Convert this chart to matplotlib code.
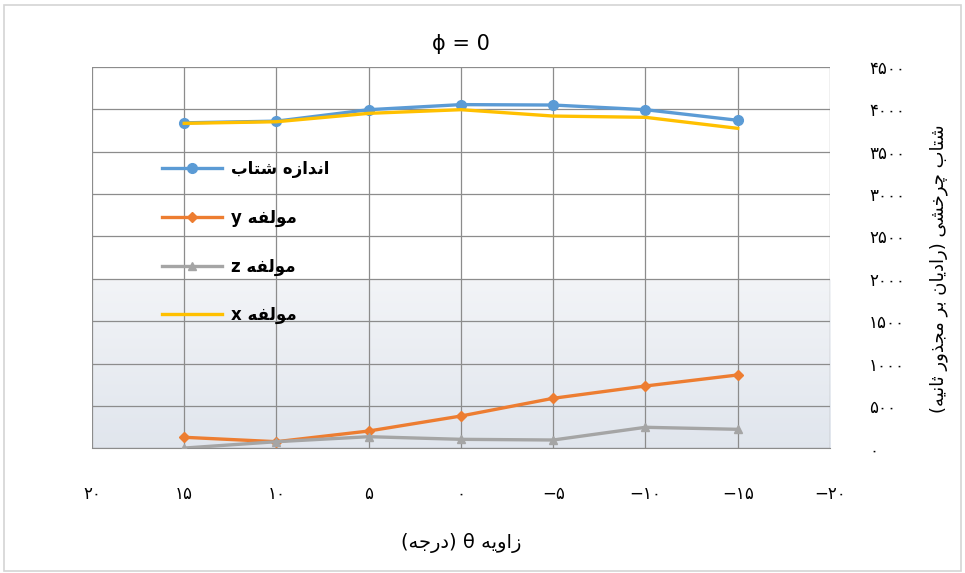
import numpy as np
import matplotlib
matplotlib.use('Agg')
import matplotlib.pyplot as plt
from matplotlib.patches import Rectangle
from matplotlib.ticker import FuncFormatter

# data
theta = [15, 10, 5, 0, -5, -10, -15]
magnitude = [3840, 3860, 3995, 4055, 4050, 3995, 3870]
comp_y = [132, 80, 206, 383, 592, 737, 867]
comp_z = [5, 80, 139, 108, 100, 250, 226]
comp_x = [3834, 3853, 3952, 3995, 3920, 3905, 3775]

x_ticks = [20, 15, 10, 5, 0, -5, -10, -15, -20]
y_ticks = list(range(0, 4501, 500))

# --- minimal persian shaping (matplotlib has no bidi / shaping) ---
# (isolated, final, initial, medial)
FORMS = {
    'ا': (0xFE8D, 0xFE8E, None, None),
    'ب': (0xFE8F, 0xFE90, 0xFE91, 0xFE92),
    'ت': (0xFE95, 0xFE96, 0xFE97, 0xFE98),
    'ث': (0xFE99, 0xFE9A, 0xFE9B, 0xFE9C),
    'ج': (0xFE9D, 0xFE9E, 0xFE9F, 0xFEA0),
    'چ': (0xFB7A, 0xFB7B, 0xFB7C, 0xFB7D),
    'خ': (0xFEA5, 0xFEA6, 0xFEA7, 0xFEA8),
    'د': (0xFEA9, 0xFEAA, None, None),
    'ذ': (0xFEAB, 0xFEAC, None, None),
    'ر': (0xFEAD, 0xFEAE, None, None),
    'ز': (0xFEAF, 0xFEB0, None, None),
    'ش': (0xFEB5, 0xFEB6, 0xFEB7, 0xFEB8),
    'ف': (0xFED1, 0xFED2, 0xFED3, 0xFED4),
    'ل': (0xFEDD, 0xFEDE, 0xFEDF, 0xFEE0),
    'م': (0xFEE1, 0xFEE2, 0xFEE3, 0xFEE4),
    'ن': (0xFEE5, 0xFEE6, 0xFEE7, 0xFEE8),
    'ه': (0xFEE9, 0xFEEA, 0xFEEB, 0xFEEC),
    'و': (0xFEED, 0xFEEE, None, None),
    'ی': (0xFBFC, 0xFBFD, 0xFBFE, 0xFBFF),
}
MIRROR = {'(': ')', ')': '('}


def shape(word):
    out = []
    for i, ch in enumerate(word):
        if ch not in FORMS:
            out.append(ch)
            continue
        iso, fin, ini, med = FORMS[ch]
        prev = word[i - 1] if i > 0 else ''
        nxt = word[i + 1] if i + 1 < len(word) else ''
        join_prev = prev in FORMS and FORMS[prev][2] is not None
        join_next = nxt in FORMS and ini is not None
        if join_prev and join_next:
            out.append(chr(med))
        elif join_prev:
            out.append(chr(fin))
        elif join_next:
            out.append(chr(ini))
        else:
            out.append(chr(iso))
    return ''.join(out)


def rtl(text):
    words = []
    for w in reversed(text.split(' ')):
        v = shape(w)[::-1]
        words.append(''.join(MIRROR.get(c, c) for c in v))
    return ' '.join(words)


FA_DIGITS = str.maketrans('0123456789', '۰۱۲۳۴۵۶۷۸۹')


def fa_num(v, pos=None):
    v = int(round(v))
    s = str(abs(v)).translate(FA_DIGITS)
    return ('−' + s) if v < 0 else s


plt.rcParams['font.family'] = ['DejaVu Sans']

fig = plt.figure(figsize=(9.65, 5.73), dpi=100)
fig.patches.append(Rectangle((0.004, 0.004), 0.992, 0.988, transform=fig.transFigure,
                             fill=False, edgecolor='#d4d4d4', linewidth=1.2))
ax = fig.add_axes([0.0953, 0.2173, 0.7648, 0.666])

# plot area background: white on top, soft blue-grey toward the bottom
f = np.linspace(0, 1, 256)
top = np.array([1.0, 1.0, 1.0])
mid = np.array([0.95, 0.957, 0.968])
bot = np.array([0.88, 0.9, 0.93])
grad = np.where((f < 0.44)[:, None],
                bot + (mid - bot) * (f / 0.44)[:, None],
                np.tile(top, (256, 1)))
ax.imshow(grad[:, None, :], extent=[0, 1, 0, 1], transform=ax.transAxes,
          origin='lower', aspect='auto', zorder=0)

ax.plot(theta, magnitude, '-o', color='#5B9BD5', lw=2.4, ms=7, label=rtl('اندازه شتاب'), zorder=3)
ax.plot(theta, comp_y, '-D', color='#ED7D31', lw=2.4, ms=5, label=rtl('مولفه y'), zorder=3)
ax.plot(theta, comp_z, '-^', color='#A5A5A5', lw=2.4, ms=6, label=rtl('مولفه z'), zorder=3)
ax.plot(theta, comp_x, '-', color='#FFC000', lw=2.4, label=rtl('مولفه x'), zorder=3)

ax.set_xlim(20, -20)
ax.set_ylim(0, 4500)
ax.set_xticks(x_ticks)
ax.set_yticks(y_ticks)
ax.xaxis.set_major_formatter(FuncFormatter(fa_num))
ax.yaxis.set_major_formatter(FuncFormatter(fa_num))
ax.yaxis.tick_right()
ax.yaxis.set_label_position('right')
ax.tick_params(axis='x', length=0, pad=26, labelsize=12)
ax.tick_params(axis='y', length=0, pad=28, labelsize=12)
for lab in ax.get_yticklabels():
    lab.set_horizontalalignment('left')
ax.grid(True, color='#8c8c8c', linewidth=0.9, zorder=1)
ax.set_axisbelow(True)
for side in ['top', 'left', 'right']:
    ax.spines[side].set_visible(False)
ax.spines['bottom'].set_color('#8c8c8c')

ax.set_title('ϕ = 0', fontsize=15, pad=12)
ax.set_xlabel(rtl('زاویه θ (درجه)'), fontsize=14, labelpad=22)
ax.set_ylabel(rtl('شتاب چرخشی (رادیان بر مجذور ثانیه)'), fontsize=13,
              rotation=90, labelpad=22)
ax.yaxis.set_label_coords(1.135, 0.47)

ax.legend(loc='upper left', bbox_to_anchor=(0.075, 0.795), frameon=False,
          prop={'size': 12, 'weight': 'bold'}, handlelength=3.6,
          labelspacing=1.84, handletextpad=0.5)

fig.savefig('out.png', dpi=100)
